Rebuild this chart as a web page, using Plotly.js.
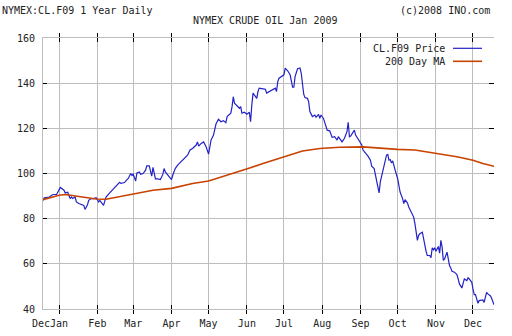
<!DOCTYPE html>
<html><head><meta charset="utf-8">
<script src="https://cdn.plot.ly/plotly-3.0.1.min.js"></script>
<style>html,body{margin:0;padding:0;background:#fff;}#chart{width:512px;height:336px;}</style>
</head><body><div id="chart"></div>
<script>
const priceDates = [
'2007-12-19','2007-12-20','2007-12-24','2007-12-27','2007-12-30','2008-01-01','2008-01-02','2008-01-05','2008-01-06','2008-01-08',
'2008-01-10','2008-01-11','2008-01-12','2008-01-14','2008-01-15','2008-01-17','2008-01-20','2008-01-21','2008-01-22','2008-01-24',
'2008-01-25','2008-01-27','2008-01-29','2008-01-31','2008-02-01','2008-02-02','2008-02-03','2008-02-06','2008-02-07','2008-02-08',
'2008-02-11','2008-02-14','2008-02-16','2008-02-19','2008-02-20','2008-02-23','2008-02-25','2008-02-26','2008-02-28','2008-02-29',
'2008-03-01','2008-03-03','2008-03-04','2008-03-06','2008-03-07','2008-03-09','2008-03-11','2008-03-12','2008-03-14','2008-03-15',
'2008-03-16','2008-03-17','2008-03-18','2008-03-19','2008-03-21','2008-03-23','2008-03-25','2008-03-26','2008-03-27','2008-03-29',
'2008-03-31','2008-04-01','2008-04-02','2008-04-04','2008-04-06','2008-04-08','2008-04-10','2008-04-12','2008-04-14','2008-04-16',
'2008-04-18','2008-04-21','2008-04-22','2008-04-23','2008-04-25','2008-04-27','2008-04-29','2008-05-01','2008-05-02','2008-05-03',
'2008-05-05','2008-05-06','2008-05-07','2008-05-09','2008-05-11','2008-05-13','2008-05-15','2008-05-16','2008-05-18','2008-05-19',
'2008-05-20','2008-05-21','2008-05-22','2008-05-24','2008-05-26','2008-05-27','2008-05-28','2008-05-30','2008-06-01','2008-06-03',
'2008-06-04','2008-06-05','2008-06-06','2008-06-07','2008-06-09','2008-06-10','2008-06-11','2008-06-14','2008-06-16','2008-06-17',
'2008-06-20','2008-06-22','2008-06-24','2008-06-25','2008-06-26','2008-06-27','2008-06-29','2008-07-01','2008-07-02','2008-07-04',
'2008-07-06','2008-07-07','2008-07-08','2008-07-09','2008-07-10','2008-07-12','2008-07-14','2008-07-15','2008-07-16','2008-07-17',
'2008-07-18','2008-07-20','2008-07-21','2008-07-22','2008-07-24','2008-07-26','2008-07-27','2008-07-29','2008-07-30','2008-07-31',
'2008-08-02','2008-08-04','2008-08-05','2008-08-07','2008-08-08','2008-08-09','2008-08-11','2008-08-13','2008-08-14','2008-08-16',
'2008-08-17','2008-08-19','2008-08-21','2008-08-22','2008-08-23','2008-08-24','2008-08-25','2008-08-27','2008-08-28','2008-08-29',
'2008-08-31','2008-09-02','2008-09-03','2008-09-05','2008-09-07','2008-09-09','2008-09-10','2008-09-12','2008-09-13','2008-09-14',
'2008-09-15','2008-09-16','2008-09-17','2008-09-18','2008-09-19','2008-09-20','2008-09-22','2008-09-23','2008-09-24','2008-09-25',
'2008-09-26','2008-09-27','2008-09-28','2008-09-29','2008-10-01','2008-10-02','2008-10-03','2008-10-05','2008-10-06','2008-10-07',
'2008-10-09','2008-10-10','2008-10-12','2008-10-14','2008-10-15','2008-10-16','2008-10-17','2008-10-18','2008-10-19','2008-10-21',
'2008-10-22','2008-10-23','2008-10-24','2008-10-25','2008-10-27','2008-10-28','2008-10-29','2008-10-30','2008-10-31','2008-11-01',
'2008-11-03','2008-11-04','2008-11-05','2008-11-06','2008-11-07','2008-11-08','2008-11-09','2008-11-10','2008-11-11','2008-11-12',
'2008-11-13','2008-11-14','2008-11-16','2008-11-18','2008-11-19','2008-11-20','2008-11-22','2008-11-23','2008-11-24','2008-11-26',
'2008-11-27','2008-11-28','2008-11-30','2008-12-01','2008-12-02','2008-12-03','2008-12-04','2008-12-05','2008-12-06','2008-12-08',
'2008-12-09','2008-12-10','2008-12-11','2008-12-12','2008-12-13','2008-12-15','2008-12-16','2008-12-17','2008-12-18'
];
const priceValues = [
88.1,89.2,89.6,90.7,90.7,93.3,93.8,92.6,91.4,91.7,
88.9,89.6,88.9,89.6,87.4,86.7,86.2,85.9,84.1,86.2,
88.1,88.9,88.9,89.3,88.4,87.4,88.1,85.9,87.8,89.6,
91.4,93.0,94.4,96.1,95.6,96.0,97.3,97.8,100.0,99.1,
99.7,96.7,100.3,100.7,99.7,100.0,101.5,103.4,103.4,101.5,
98.8,102.7,100.3,97.6,97.6,97.3,99.6,102.2,100.7,99.2,
97.8,97.3,99.2,102.2,103.7,104.7,105.9,106.7,108.1,110.4,
111.1,112.6,114.0,112.1,113.3,114.0,111.8,108.6,112.6,114.8,
117.0,120.0,121.9,124.0,122.9,123.4,122.5,125.2,126.2,126.7,
129.6,134.0,131.1,130.0,128.9,129.6,126.7,127.1,126.2,127.1,
122.9,130.4,135.6,134.8,133.3,136.3,137.8,137.5,137.3,135.6,
136.6,137.0,137.8,136.3,140.7,142.2,142.9,143.7,146.7,145.5,
143.7,141.5,138.2,138.2,142.9,146.4,146.7,144.4,138.5,135.1,
133.6,133.3,131.8,127.4,125.2,125.9,124.9,126.2,124.4,125.9,
124.4,121.5,119.2,118.9,117.0,116.0,116.3,114.8,116.3,114.5,
114.0,115.6,118.5,122.7,116.3,116.6,117.5,119.2,117.0,116.0,
114.5,112.6,110.4,109.2,107.7,105.9,103.2,102.2,99.7,97.3,
94.8,91.4,96.3,98.5,100.7,103.2,108.1,108.6,105.9,106.2,
104.7,105.6,103.2,101.5,97.8,94.0,91.8,88.9,86.7,88.4,
86.9,85.2,82.9,80.7,77.8,73.3,70.4,72.6,73.3,74.0,
71.1,67.1,65.6,63.7,63.7,62.7,67.1,66.2,67.1,65.6,
67.7,64.7,70.4,67.4,61.5,62.2,63.7,65.2,62.2,59.2,
58.2,56.7,56.3,55.2,53.3,51.1,49.3,51.1,53.3,52.6,
53.8,53.3,51.8,48.9,46.4,46.4,44.4,42.5,43.7,43.7,
44.0,42.9,45.1,47.4,46.7,45.9,44.9,43.7,41.9
];
const maDates = ['2007-12-19','2008-01-01','2008-01-06','2008-01-18','2008-01-31','2008-02-08','2008-02-22','2008-03-06','2008-03-17','2008-04-01',
'2008-04-18','2008-05-01','2008-05-16','2008-06-02','2008-06-14','2008-07-01','2008-07-16','2008-07-30','2008-08-15','2008-09-03',
'2008-09-16','2008-10-01','2008-10-15','2008-11-03','2008-11-18','2008-12-01','2008-12-09','2008-12-18'];
const maValues = [88.4,90.4,90.7,89.9,88.7,88.6,90.0,91.5,92.6,93.4,
95.6,96.7,99.2,102.2,104.4,107.4,110.0,111.1,111.6,111.8,
111.2,110.7,110.4,108.9,107.4,105.9,104.4,103.2];
const xTickDates = ['2007-12-19','2008-01-01','2008-02-01','2008-03-01','2008-04-01','2008-05-01','2008-06-01','2008-07-01','2008-08-01','2008-09-01','2008-10-01','2008-11-01','2008-12-01'];
const xTickLabels = ['Dec','Jan','Feb','Mar','Apr','May','Jun','Jul','Aug','Sep','Oct','Nov','Dec'];
const yTickValues = [40,60,80,100,120,140,160];
const seriesNames = ['CL.F09 Price','200 Day MA'];

const FONT = {family:'DejaVu Sans Mono, monospace', size:10, color:'#222'};
const GRID = '#bdbdbd';
const BLUE = '#2222c8', ORANGE = '#c84200';
const L = 43, R = 494, T = 38, B = 309;
const px = x => (x - L) / (R - L);
const py = y => 1 - (y - T) / (B - T);

// first tick label (at the left edge) is placed as an annotation so it can sit flush against "Jan"
const axisTickText = xTickLabels.map((t, i) => i === 0 ? '' : t);

const traces = [
  {x: priceDates, y: priceValues, type:'scatter', mode:'lines', name: seriesNames[0], line:{color:BLUE, width:1.2}, xaxis:'x', yaxis:'y'},
  {x: maDates, y: maValues, type:'scatter', mode:'lines', name: seriesNames[1], line:{color:ORANGE, width:1.6}, xaxis:'x', yaxis:'y2'}
];

const layout = {
  width:512, height:336,
  margin:{l:L, r:512-R, t:T, b:336-B, pad:0},
  paper_bgcolor:'#fff', plot_bgcolor:'#fff',
  showlegend:false,
  font: FONT,
  xaxis:{type:'date', range:['2007-12-19','2008-12-18'], tickmode:'array', tickvals:xTickDates, ticktext:axisTickText,
    tickangle:0, ticks:'inside', ticklen:4, tickcolor:'#000', tickwidth:1, showgrid:true, gridcolor:GRID, gridwidth:1,
    showline:true, linecolor:GRID, linewidth:1, mirror:'allticks', tickfont:FONT, fixedrange:true, zeroline:false, ticklabelstandoff:5},
  yaxis:{range:[40,160], tickmode:'array', tickvals:yTickValues, ticks:'inside', ticklen:4, tickcolor:'#000',
    showgrid:true, gridcolor:GRID, gridwidth:1, showline:true, linecolor:GRID, linewidth:1, zeroline:false,
    tickfont:FONT, fixedrange:true, ticklabelstandoff:5},
  yaxis2:{range:[40,160], overlaying:'y', side:'right', anchor:'x', tickmode:'array', tickvals:yTickValues,
    ticks:'inside', ticklen:5, tickcolor:'#000', showticklabels:false, showgrid:false, showline:false, zeroline:false, fixedrange:true},
  shapes:[
    {type:'rect', xref:'paper', yref:'paper', x0:px(370), x1:px(490), y0:py(68), y1:py(39.5), fillcolor:'#fff', line:{width:0}, layer:'between'},
    {type:'line', xref:'paper', yref:'paper', x0:px(453), x1:px(482), y0:py(48.3), y1:py(48.3), line:{color:BLUE, width:1.2}},
    {type:'line', xref:'paper', yref:'paper', x0:px(453), x1:px(482), y0:py(61.3), y1:py(61.3), line:{color:ORANGE, width:1.6}}
  ],
  annotations:[
    {text:'NYMEX:CL.F09 1 Year Daily', xref:'paper', yref:'paper', x:px(0), y:py(10.8), xanchor:'left', yanchor:'middle', showarrow:false, font:FONT},
    {text:'(c)2008 INO.com', xref:'paper', yref:'paper', x:px(492), y:py(10.8), xanchor:'right', yanchor:'middle', showarrow:false, font:FONT},
    {text:'NYMEX CRUDE OIL Jan 2009', xref:'paper', yref:'paper', x:px(265.7), y:py(21), xanchor:'center', yanchor:'middle', showarrow:false, font:FONT},
    {text:seriesNames[0], xref:'paper', yref:'paper', x:px(447), y:py(48.3), xanchor:'right', yanchor:'middle', showarrow:false, font:FONT},
    {text:seriesNames[1], xref:'paper', yref:'paper', x:px(447), y:py(61.3), xanchor:'right', yanchor:'middle', showarrow:false, font:FONT},
    {text:xTickLabels[0], xref:'paper', yref:'paper', x:px(50.5), y:py(323), xanchor:'right', yanchor:'middle', showarrow:false, font:FONT, borderpad:0}
  ]
};
Plotly.newPlot('chart', traces, layout, {staticPlot:true, displayModeBar:false});
</script>
</body></html>
